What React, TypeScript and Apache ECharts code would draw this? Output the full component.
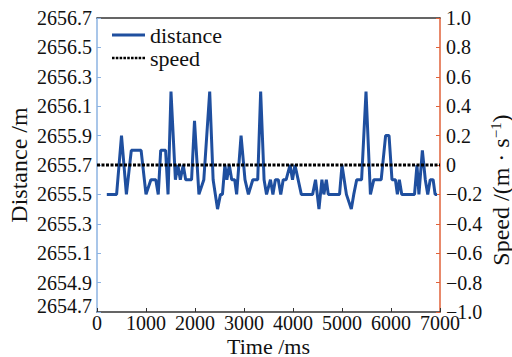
import React, { useEffect, useRef } from "react";
import * as echarts from "echarts";

// Time (ms) of each distance sample
const times = [
  200, 300, 400, 500, 600, 700, 800, 900, 1000, 1100, 1200, 1250, 1300, 1400, 1450, 1510,
  1600, 1650, 1700, 1760, 1810, 1930, 1990, 2080, 2180, 2300, 2370, 2460, 2520, 2560,
  2610, 2650, 2700, 2750, 2810, 2850, 2940, 3020, 3090, 3180, 3280, 3340, 3410, 3460,
  3540, 3590, 3640, 3700, 3750, 3800, 3860, 3940, 3990, 4040, 4170, 4400, 4460, 4530,
  4590, 4630, 4680, 4720, 4950, 5000, 5090, 5190, 5240, 5300, 5400, 5490, 5580, 5650,
  5800, 5890, 5960, 6020, 6090, 6130, 6170, 6220, 6480, 6530, 6570, 6640, 6700, 6750,
  6800, 6860, 6900, 6940,
];
// Distance (m)
const distance = [
  2655.5, 2655.5, 2655.5, 2655.9, 2655.5, 2655.8, 2655.8, 2655.8, 2655.5, 2655.6, 2655.6, 2655.5, 2655.8, 2655.8, 2655.5, 2656.2,
  2655.6, 2655.7, 2655.6, 2655.7, 2655.6, 2655.6, 2656.0, 2655.5, 2655.6, 2656.2, 2655.6, 2655.4, 2655.5, 2655.5,
  2655.7, 2655.6, 2655.7, 2655.6, 2655.6, 2655.5, 2655.9, 2655.6, 2655.5, 2655.6, 2655.6, 2656.2, 2655.6, 2655.5,
  2655.6, 2655.5, 2655.6, 2655.6, 2655.5, 2655.6, 2655.6, 2655.7, 2655.6, 2655.7, 2655.5, 2655.5, 2655.6, 2655.4,
  2655.6, 2655.5, 2655.6, 2655.5, 2655.5, 2655.7, 2655.5, 2655.4, 2655.5, 2655.6, 2655.6, 2656.2, 2655.5, 2655.6,
  2655.6, 2655.9, 2655.9, 2655.6, 2655.6, 2655.5, 2655.6, 2655.5, 2655.5, 2655.7, 2655.5, 2655.8, 2655.6, 2655.5,
  2655.6, 2655.6, 2655.5, 2655.5,
];
// Speed (m/s)
const speedTimes = [0, 7000];
const speed = [0, 0];

const FONT = "'Liberation Serif', 'Times New Roman', serif";
const BLUE = "#1f4f9f";

// dotted legend icon: a row of small squares
const dots = Array.from({ length: 9 }, (_, k) => `M${k * 4.5},0h3v3h-3z`).join(" ");

export default function App() {
  const ref = useRef<HTMLDivElement>(null);
  useEffect(() => {
    if (!ref.current) return;
    const chart = echarts.init(ref.current, null, { renderer: "svg" });
    const labelStyle = { fontFamily: FONT, fontSize: 20, color: "#111" };
    chart.setOption({
      animation: false,
      backgroundColor: "#fff",
      textStyle: { fontFamily: FONT },
      grid: {
        left: 97,
        right: 72,
        top: 18,
        bottom: 45,
        containLabel: false,
        outerBoundsMode: "none",
      },
      legend: {
        orient: "vertical",
        left: 112,
        top: 24,
        itemWidth: 33,
        itemHeight: 3,
        itemGap: 1,
        padding: 0,
        textStyle: { fontFamily: FONT, fontSize: 22, color: "#111", padding: [0, 0, 0, 0] },
        data: [
          { name: "distance", icon: "rect", itemStyle: { color: BLUE } },
          { name: "speed", icon: "path://" + dots, itemStyle: { color: "#000" } },
        ],
      },
      xAxis: [
        {
          type: "value",
          min: 0,
          max: 7000,
          interval: 1000,
          position: "bottom",
          name: "Time /ms",
          nameLocation: "middle",
          nameGap: 23,
          nameMoveOverlap: false,
          nameTextStyle: { fontFamily: FONT, fontSize: 22, color: "#111" },
          axisLine: { show: true, onZero: false, lineStyle: { color: "#333", width: 1.5 } },
          axisTick: { show: true, inside: true, length: 4, lineStyle: { color: "#333" } },
          axisLabel: { ...labelStyle, margin: 1, formatter: (v: number) => String(v) },
          splitLine: { show: false },
        },
        {
          type: "value",
          min: 0,
          max: 7000,
          position: "top",
          axisLine: { show: true, onZero: false, lineStyle: { color: "#333", width: 1.5 } },
          axisTick: { show: false },
          axisLabel: { show: false },
          splitLine: { show: false },
        },
      ],
      yAxis: [
        {
          type: "value",
          min: 2654.7,
          max: 2656.7,
          interval: 0.2,
          position: "left",
          name: "Distance /m",
          nameLocation: "middle",
          nameGap: 66,
          nameMoveOverlap: false,
          nameTextStyle: { fontFamily: FONT, fontSize: 24, color: "#111" },
          axisLine: { show: true, onZero: false, lineStyle: { color: "#8db3e2", width: 1.5 } },
          axisTick: { show: true, inside: true, length: 4, lineStyle: { color: "#8db3e2" } },
          axisLabel: {
            ...labelStyle,
            margin: 5,
            formatter: (v: number, i: number) =>
              i === 0 ? `{lo|${v.toFixed(1)}}` : v.toFixed(1),
            rich: { lo: { fontFamily: FONT, fontSize: 20, color: "#111", padding: [0, 0, 12, 0] } },
          },
          splitLine: { show: false },
        },
        {
          type: "value",
          min: -1,
          max: 1,
          interval: 0.2,
          position: "right",
          name: "{a|Speed /(m · s}{s|−1}{a|)}",
          nameLocation: "middle",
          nameGap: 48,
          nameMoveOverlap: false,
          nameTextStyle: {
            fontFamily: FONT,
            fontSize: 24,
            color: "#111",
            padding: [0, 50, 0, 0],
            rich: {
              a: { fontFamily: FONT, fontSize: 24, color: "#111" },
              s: { fontFamily: FONT, fontSize: 15, color: "#111", padding: [0, 0, 11, 0] },
            },
          },
          axisLine: { show: true, onZero: false, lineStyle: { color: "#e0623a", width: 1.5 } },
          axisTick: { show: true, inside: true, length: 4, lineStyle: { color: "#e0623a" } },
          axisLabel: {
            ...labelStyle,
            margin: 6,
            formatter: (v: number) => {
              if (Math.abs(v) < 1e-9) return "0";
              return v.toFixed(1).replace("-", "−");
            },
          },
          splitLine: { show: false },
        },
      ],
      series: [
        {
          name: "distance",
          type: "line",
          xAxisIndex: 0,
          yAxisIndex: 0,
          showSymbol: false,
          symbol: "none",
          color: BLUE,
          lineStyle: { color: BLUE, width: 3 },
          data: times.map((t, i) => [t, distance[i]]),
        },
        {
          name: "speed",
          type: "line",
          xAxisIndex: 0,
          yAxisIndex: 1,
          showSymbol: false,
          symbol: "none",
          color: "#000",
          lineStyle: { color: "#000", width: 3, type: [3, 1.5] },
          data: speedTimes.map((t, i) => [t, speed[i]]),
        },
      ],
    });
    return () => chart.dispose();
  }, []);
  return (
    <div
      ref={ref}
      style={{ position: "absolute", left: 0, top: 0, width: 512, height: 357 }}
    />
  );
}
